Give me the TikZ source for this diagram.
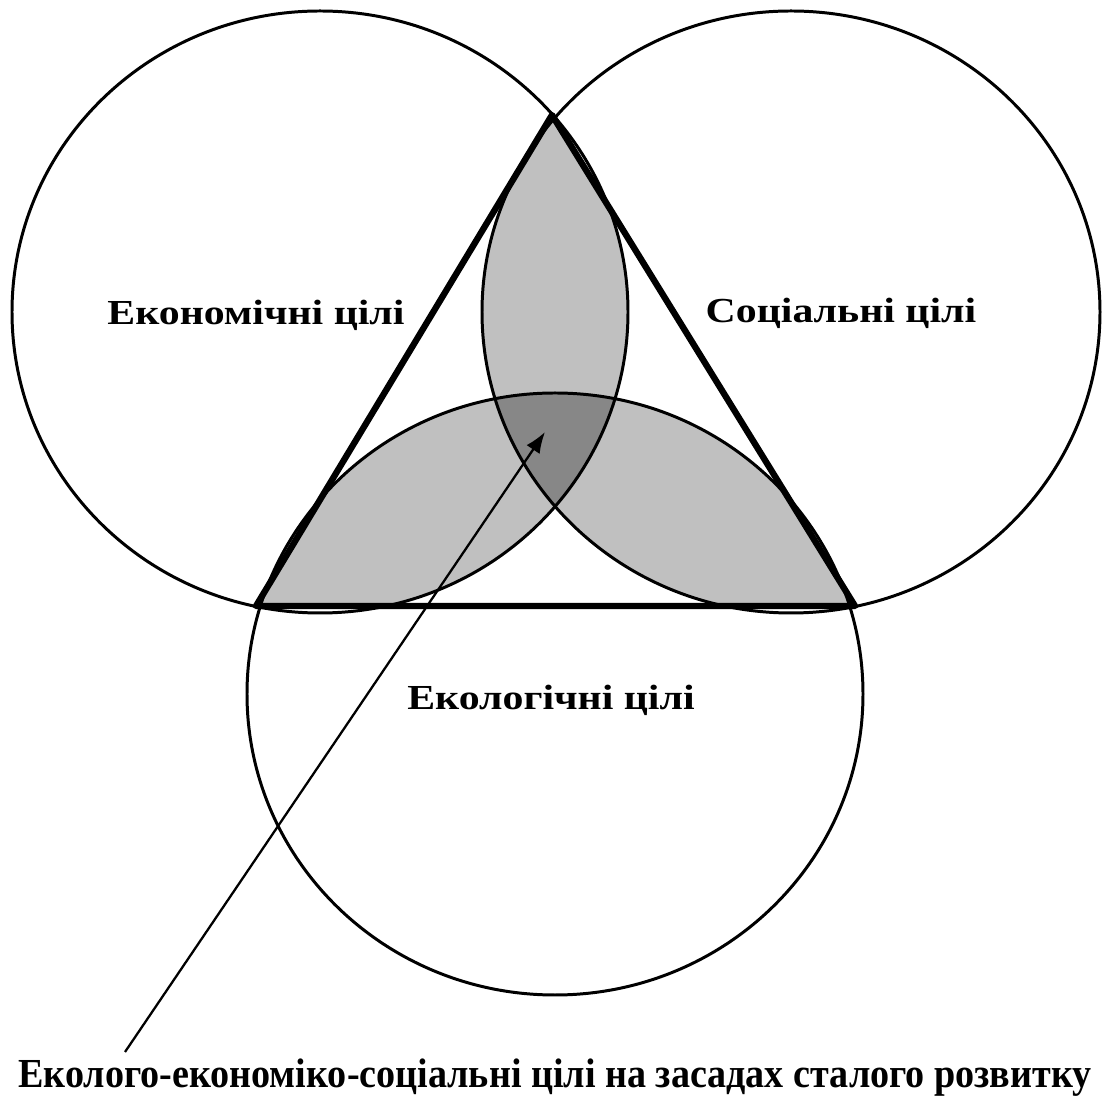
\documentclass[tikz,border=0pt]{standalone}
\usepackage{fontspec}
\setmainfont{Liberation Serif}
\usetikzlibrary{arrows.meta}
\definecolor{pairfill}{HTML}{C0C0C0}
\definecolor{corefill}{HTML}{878787}
\tikzset{goal/.style={draw=black,line width=1.7pt},
 frame/.style={draw=black,line width=3.6pt,line join=round},
 pair/.style={fill=pairfill},
 core/.style={fill=corefill},
 goallabel/.style={font=\bfseries\fontsize{20}{24}\selectfont,inner sep=0pt},
 caption/.style={font=\bfseries\fontsize{23.5}{28}\selectfont,inner sep=0pt},
 pointer/.style={draw=black,line width=1.3pt,-{Latex[length=12pt,width=9pt]}},
 }

\begin{document}
\begin{tikzpicture}[x=0.02cm,y=0.02cm]
    \useasboundingbox (0,0) rectangle (1103,1099);
    \def\econ{(320,787) ellipse [x radius=308,y radius=301]}
    \def\soc{(791,787) ellipse [x radius=309,y radius=301]}
    \def\ecol{(555,405) ellipse [x radius=308,y radius=301]}
    \def\tri{(552,984) -- (256,493) -- (855,493) -- cycle}
    \begin{scope}
        \clip \tri;
        \begin{scope}
            \clip \econ;
            \fill[pair] \soc;
            \fill[pair] \ecol;
        \end{scope}
        \begin{scope}
            \clip \soc;
            \fill[pair] \ecol;
        \end{scope}
        \begin{scope}
            \clip \econ;
            \clip \soc;
            \fill[core] \ecol;
        \end{scope}
    \end{scope}
    \draw[goal] \econ;
    \draw[goal] \soc;
    \draw[goal] \ecol;
    \draw[frame] \tri;
    \node[goallabel] (econ) at (256,784) {\scalebox{1.19}[1]{Економічні цілі}};
    \node[goallabel] (soc) at (841,786) {\scalebox{1.19}[1]{Соціальні цілі}};
    \node[goallabel] (ecol) at (551,399) {\scalebox{1.19}[1]{Екологічні цілі}};
    \node[caption] (sum) at (555,21) {\scalebox{0.923}[1]{Еколого-економіко-соціальні цілі на засадах сталого розвитку}};
    \coordinate (tail) at (125,47);
    \coordinate (tip) at (545,667);
    \draw[pointer] (tail) -- (tip);
\end{tikzpicture}
\end{document}
